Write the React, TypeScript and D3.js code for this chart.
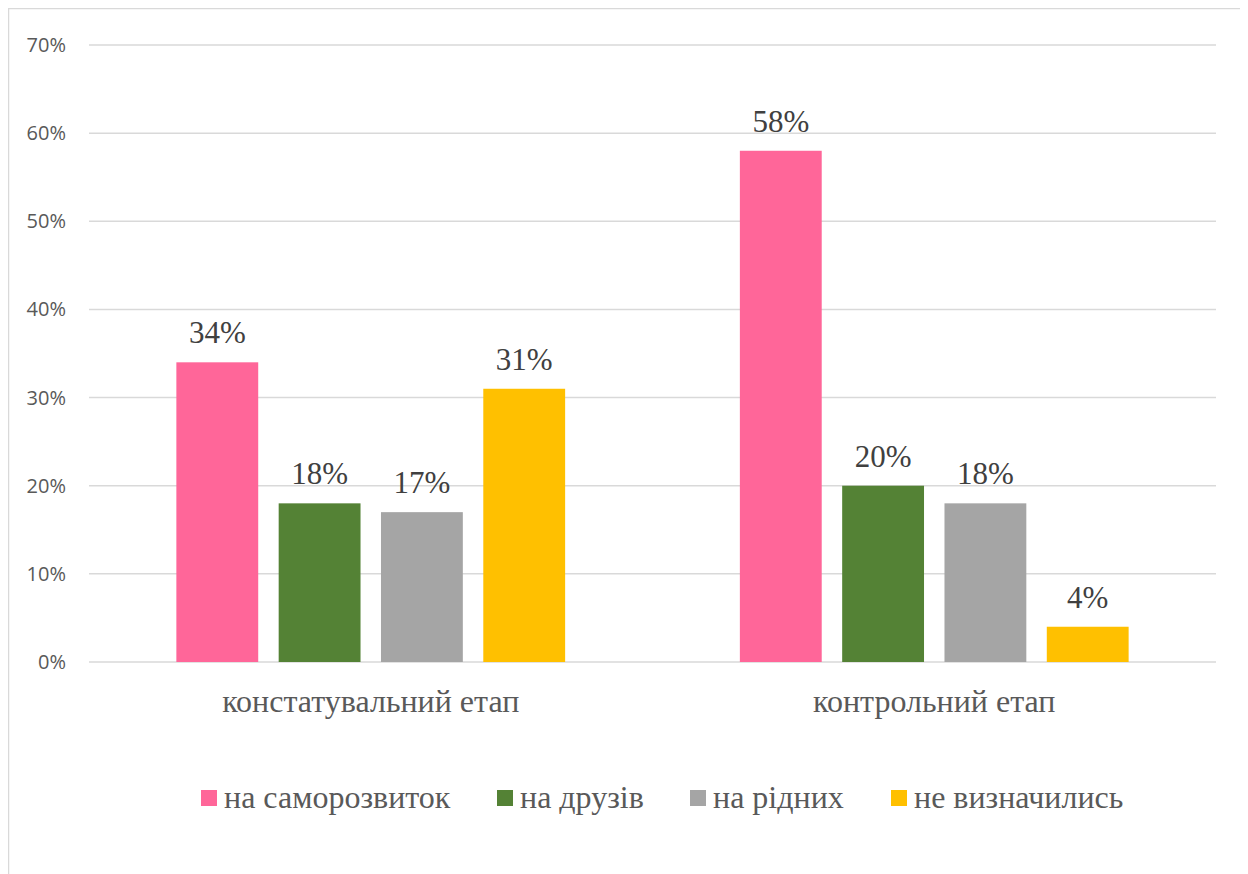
import React from 'react';
import * as d3 from 'd3';

const categories = ['констатувальний етап', 'контрольний етап'];
const seriesNames = ['на саморозвиток', 'на друзів', 'на рідних', 'не визначились'];
const seriesColors = ['#FF6699', '#548235', '#A5A5A5', '#FFC000'];
// values per series, one entry per category (%)
const samorozvytok = [34, 58];
const druzi = [18, 20];
const ridni = [17, 18];
const neVyznachylys = [31, 4];
const yTicks = [0, 10, 20, 30, 40, 50, 60, 70];

const seriesValues = [samorozvytok, druzi, ridni, neVyznachylys];

const W = 1237;
const H = 866;
const plotLeft = 81;
const plotRight = 1208;
const plotTop = 37;
const plotBottom = 654;

const serif = 'Liberation Serif';
const sans = 'Open Sans';

const App = () => {
    const y = d3.scaleLinear().domain([0, 70]).range([plotBottom, plotTop]);
    const x0 = d3.scaleBand<string>().domain(categories).range([plotLeft, plotRight]);
    const x1 = d3.scaleBand<string>()
        .domain(seriesNames)
        .range([0, x0.bandwidth()])
        .paddingInner(0.2)
        .paddingOuter(0.854);

    // legend layout
    const legendX = [193, 489, 682, 883];
    const legendY = 800;

    return (
        <svg width={W} height={H} style={{ display: 'block' }}>
            <rect x={0.5} y={0.5} width={W - 1} height={H + 10} fill="#fff" stroke="#d9d9d9" strokeWidth={1.5} />

            {/* gridlines + y labels */}
            {yTicks.map(t => (
                <g key={t}>
                    <line x1={plotLeft} x2={plotRight} y1={y(t)} y2={y(t)} stroke="#d9d9d9" strokeWidth={1.5} />
                    <text x={plotLeft - 23} y={y(t)} dy="0.35em" textAnchor="end"
                        fontFamily={sans} fontSize={20} fill="#595959">{t}%</text>
                </g>
            ))}

            {/* bars */}
            {categories.map((cat, ci) => (
                <g key={cat} transform={`translate(${x0(cat)},0)`}>
                    {seriesNames.map((s, si) => {
                        const v = seriesValues[si][ci];
                        const bx = x1(s) as number;
                        return (
                            <g key={s}>
                                <rect x={bx} y={y(v)} width={x1.bandwidth()} height={plotBottom - y(v)}
                                    fill={seriesColors[si]} />
                                <text x={bx + x1.bandwidth() / 2} y={y(v) - 19} textAnchor="middle"
                                    fontFamily={serif} fontSize={31} fill="#404040">{v}%</text>
                            </g>
                        );
                    })}
                    <text x={x0.bandwidth() / 2} y={plotBottom + 50} textAnchor="middle"
                        fontFamily={serif} fontSize={32} fill="#595959">{cat}</text>
                </g>
            ))}

            {/* legend */}
            {seriesNames.map((s, i) => (
                <g key={s} transform={`translate(${legendX[i]},${legendY})`}>
                    <rect x={0} y={-18} width={16} height={16} fill={seriesColors[i]} />
                    <text x={23} y={0} fontFamily={serif} fontSize={32} fill="#595959">{s}</text>
                </g>
            ))}
        </svg>
    );
};

export default App;
